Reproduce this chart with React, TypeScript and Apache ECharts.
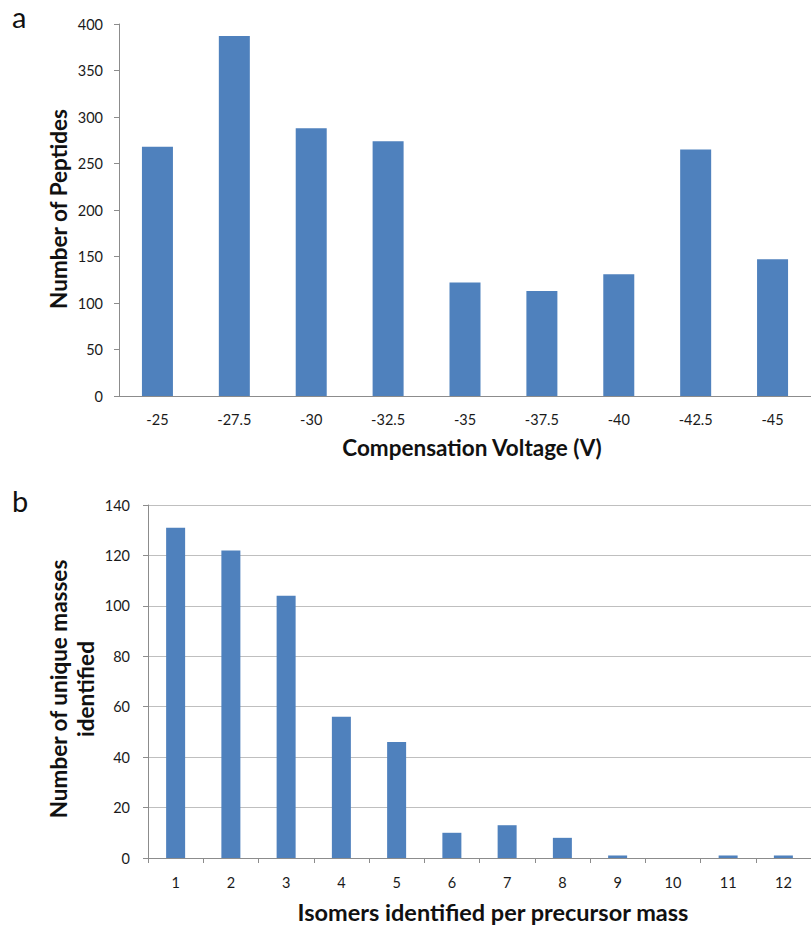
import React, { useEffect, useRef } from "react";
import * as echarts from "echarts";

const voltageCategories = ["-25", "-27.5", "-30", "-32.5", "-35", "-37.5", "-40", "-42.5", "-45"];
const peptideCounts = [268, 387, 288, 274, 122, 113, 131, 265, 147];

const isomerCategories = ["1", "2", "3", "4", "5", "6", "7", "8", "9", "10", "11", "12"];
const uniqueMassCounts = [131, 122, 104, 56, 46, 10, 13, 8, 1, 0, 1, 1];

const topTicks = { min: 0, max: 400, interval: 50 };
const bottomTicks = { min: 0, max: 140, interval: 20 };

const FONT = "Lato, 'Noto Sans', sans-serif";
const BAR = "#4F81BD";
const AXIS = "#8c8c8c";

export default function App() {
  const ref = useRef<HTMLDivElement>(null);
  useEffect(() => {
    if (!ref.current) return;
    const chart = echarts.init(ref.current, null, { renderer: "svg" });
    const labelStyle = { color: "#1a1a1a", fontSize: 14.5, fontFamily: FONT };
    const titleStyle = { fontWeight: "bold", fontFamily: FONT, fill: "#111", align: "center", verticalAlign: "middle" };
    chart.setOption({
      animation: false,
      backgroundColor: "#ffffff",
      textStyle: { fontFamily: FONT },
      grid: [
        { left: 119, right: 0, top: 24, height: 372 },
        { left: 148, right: 0, top: 505, height: 353 },
      ],
      xAxis: [
        {
          type: "category",
          gridIndex: 0,
          data: voltageCategories,
          axisLine: { lineStyle: { color: AXIS, width: 1 } },
          axisTick: { show: false },
          axisLabel: { ...labelStyle, margin: 16 },
        },
        {
          type: "category",
          gridIndex: 1,
          data: isomerCategories,
          axisLine: { lineStyle: { color: AXIS, width: 1 } },
          axisTick: { show: true, length: 5, lineStyle: { color: AXIS } },
          axisLabel: { ...labelStyle, margin: 17 },
        },
      ],
      yAxis: [
        {
          type: "value",
          gridIndex: 0,
          ...topTicks,
          axisLine: { show: true, lineStyle: { color: AXIS } },
          axisTick: { show: true, length: 5, lineStyle: { color: AXIS } },
          splitLine: { show: false },
          axisLabel: { ...labelStyle, margin: 16 },
        },
        {
          type: "value",
          gridIndex: 1,
          ...bottomTicks,
          axisLine: { show: true, lineStyle: { color: AXIS } },
          axisTick: { show: true, length: 5, lineStyle: { color: AXIS } },
          splitLine: { show: true, lineStyle: { color: "#bfbfbf", width: 1 } },
          axisLabel: { ...labelStyle, margin: 18 },
        },
      ],
      series: [
        {
          type: "bar",
          xAxisIndex: 0,
          yAxisIndex: 0,
          data: peptideCounts,
          barWidth: 31,
          itemStyle: { color: BAR },
        },
        {
          type: "bar",
          xAxisIndex: 1,
          yAxisIndex: 1,
          data: uniqueMassCounts,
          barWidth: 19,
          itemStyle: { color: BAR },
        },
      ],
      graphic: [
        { type: "text", left: 12, top: 2, style: { text: "a", fontSize: 29, fontFamily: FONT, fill: "#111" } },
        { type: "text", left: 12, top: 486, style: { text: "b", fontSize: 29, fontFamily: FONT, fill: "#111" } },
        {
          type: "text",
          x: 58,
          y: 209,
          rotation: Math.PI / 2,
          style: { ...titleStyle, text: "Number of Peptides", fontSize: 22.5 },
        },
        {
          type: "text",
          x: 472,
          y: 447,
          style: { ...titleStyle, text: "Compensation Voltage (V)", fontSize: 22.5 },
        },
        {
          type: "text",
          x: 72,
          y: 689,
          rotation: Math.PI / 2,
          style: { ...titleStyle, text: "Number of unique masses\nidentified", fontSize: 22.5, lineHeight: 27 },
        },
        {
          type: "text",
          x: 493,
          y: 912,
          style: { ...titleStyle, text: "Isomers identified per precursor mass", fontSize: 23.5 },
        },
      ],
    });
    return () => chart.dispose();
  }, []);
  return (
    <div
      ref={ref}
      style={{ position: "fixed", left: 0, top: 0, width: 811, height: 925, background: "#fff" }}
    />
  );
}
